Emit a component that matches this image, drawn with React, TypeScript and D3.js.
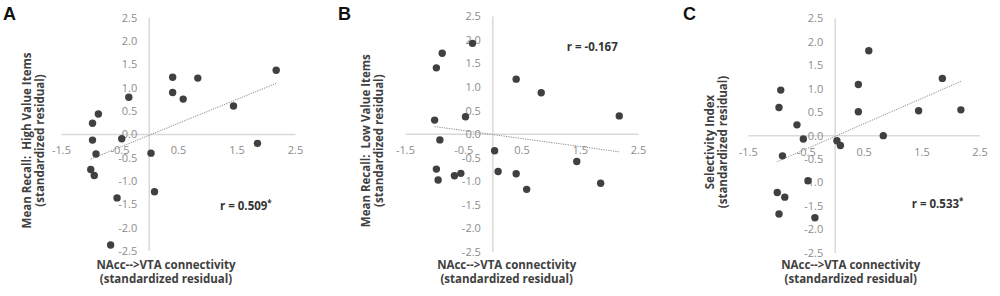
import React from "react";
import * as d3 from "d3";

// NAcc->VTA connectivity (standardized residual), one value per subject (shared by all panels)
const connectivity = [2.17, 0.40, 0.83, 0.40, 0.58, -0.35, 1.44, -0.87, -0.97, -0.97, -0.47, -0.91, 0.03, 1.85, -1.00, -0.94, 0.09, -0.55, -0.66];
// Panel A: mean recall, high value items
const recallHigh = [1.38, 1.23, 1.21, 0.90, 0.76, 0.80, 0.61, 0.44, 0.24, -0.12, -0.09, -0.42, -0.40, -0.19, -0.75, -0.88, -1.23, -1.36, -2.37];
// Panel B: mean recall, low value items
const recallLow = [0.39, 1.17, 0.88, -0.84, -1.17, 1.93, -0.58, 1.72, 1.41, -0.74, 0.37, -0.12, -0.35, -1.04, 0.30, -0.97, -0.79, -0.83, -0.88];
// Panel C: selectivity index
const selectivity = [0.55, 1.09, 0.00, 0.51, 1.81, -1.75, 0.53, -1.31, 0.60, -1.67, -0.96, -0.43, -0.11, 1.22, -1.21, 0.97, -0.21, -0.07, 0.23];

const xTicks = [-1.5, -0.5, 0.5, 1.5, 2.5];
const yTicks = [2.5, 2.0, 1.5, 1.0, 0.5, 0.0, -0.5, -1.0, -1.5, -2.0, -2.5];
const xDomain = [-1.5, 2.5];
const yDomain = [-2.5, 2.5];

const panelLetters = ["A", "B", "C"];
const rValues = ["0.509", "-0.167", "0.533"];
const rSignificant = [true, false, true];
const yTitles = [
  ["Mean Recall:  High Value Items", "(standardized residual)"],
  ["Mean Recall:  Low Value Items", "(standardized residual)"],
  ["Selectivity Index", "(standardized residual)"],
];
const xTitle = ["NAcc-->VTA connectivity", "(standardized residual)"];
const seriesY = [recallHigh, recallLow, selectivity];

// layout (pixels)
const layout = [
  { letterX: 3, xr: [61.5, 295.5], yr: [251, 18], ytX: 33.75, ytY: 140.5, xtX: 166, rX: 220, rY: 206 },
  { letterX: 338, xr: [405.5, 638.5], yr: [252, 16.5], ytX: 372.5, ytY: 140.7, xtX: 506.7, rX: 566.7, rY: 46.7 },
  { letterX: 683, xr: [748.3, 980], yr: [253, 18.3], ytX: 716, ytY: 142, xtX: 850.8, rX: 911.7, rY: 204 },
];

const FONT = "'Open Sans', 'DejaVu Sans', sans-serif";

function regression(xs: number[], ys: number[]) {
  const mx = d3.mean(xs) as number;
  const my = d3.mean(ys) as number;
  let sxy = 0, sxx = 0;
  xs.forEach((x, i) => {
    sxy += (x - mx) * (ys[i] - my);
    sxx += (x - mx) * (x - mx);
  });
  const slope = sxy / sxx;
  return { slope, intercept: my - slope * mx };
}

function Panel({ i }: { i: number }) {
  const L = layout[i];
  const ys = seriesY[i];
  const x = d3.scaleLinear().domain(xDomain).range(L.xr);
  const y = d3.scaleLinear().domain(yDomain).range(L.yr);
  const x0 = x(0);
  const y0 = y(0);
  const { slope, intercept } = regression(connectivity, ys);
  const [xmin, xmax] = d3.extent(connectivity) as [number, number];
  const line = d3.line<number>().x((d) => x(d)).y((d) => y(intercept + slope * d));
  return (
    <g>
      <text x={L.letterX} y={20} fontFamily="'Liberation Sans', Arial, sans-serif" fontWeight="bold" fontSize={18} fill="#111">
        {panelLetters[i]}
      </text>
      {/* axes */}
      <line x1={x(xDomain[0])} x2={x(xDomain[1])} y1={y0} y2={y0} stroke="#d9d9d9" strokeWidth={1.5} />
      <line x1={x0} x2={x0} y1={y(yDomain[0])} y2={y(yDomain[1])} stroke="#d9d9d9" strokeWidth={1.5} />
      {yTicks.map((t) => (
        <text key={"y" + t} x={x0 - 12} y={y(t)} dy="0.35em" textAnchor="end" fontFamily={FONT} fontSize={11} fill="#8c8c8c">
          {t.toFixed(1)}
        </text>
      ))}
      {xTicks.map((t) => (
        <text key={"x" + t} x={x(t)} y={y0 + 16} dy="0.35em" textAnchor="middle" fontFamily={FONT} fontSize={11} fill="#8c8c8c">
          {t.toFixed(1)}
        </text>
      ))}
      {/* trendline */}
      <path d={line([xmin, xmax]) as string} fill="none" stroke="#8a8a8a" strokeWidth={1} strokeDasharray="1.2 1.2" />
      {/* points */}
      {connectivity.map((cx, k) => (
        <circle key={k} cx={x(cx)} cy={y(ys[k])} r={3.7} fill="#404040" />
      ))}
      {/* r annotation */}
      <text x={L.rX} y={L.rY} dy="0.35em" fontFamily={FONT} fontWeight="bold" fontSize={11.5} fill="#333">
        {"r = " + rValues[i]}
        {rSignificant[i] ? (
          <tspan fontSize={8} dy="-4">*</tspan>
        ) : null}
      </text>
      {/* y title */}
      <g transform={`translate(${L.ytX},${L.ytY}) rotate(-90)`}>
        {yTitles[i].map((s, k) => (
          <text key={k} x={0} y={(k - 0.5) * 13} dy="0.35em" textAnchor="middle" fontFamily={FONT} fontWeight="bold" fontSize={11.5} fill="#404040" style={{ whiteSpace: "pre" }}>
            {s}
          </text>
        ))}
      </g>
      {/* x title */}
      {xTitle.map((s, k) => (
        <text key={k} x={L.xtX} y={265 + k * 13.5} dy="0.35em" textAnchor="middle" fontFamily={FONT} fontWeight="bold" fontSize={11.5} fill="#404040">
          {s}
        </text>
      ))}
    </g>
  );
}

export default function App() {
  return (
    <svg width={1000} height={296} style={{ position: "absolute", left: 0, top: 0, background: "#fff" }}>
      <rect width={1000} height={296} fill="#fff" />
      {[0, 1, 2].map((i) => (
        <Panel key={i} i={i} />
      ))}
    </svg>
  );
}
